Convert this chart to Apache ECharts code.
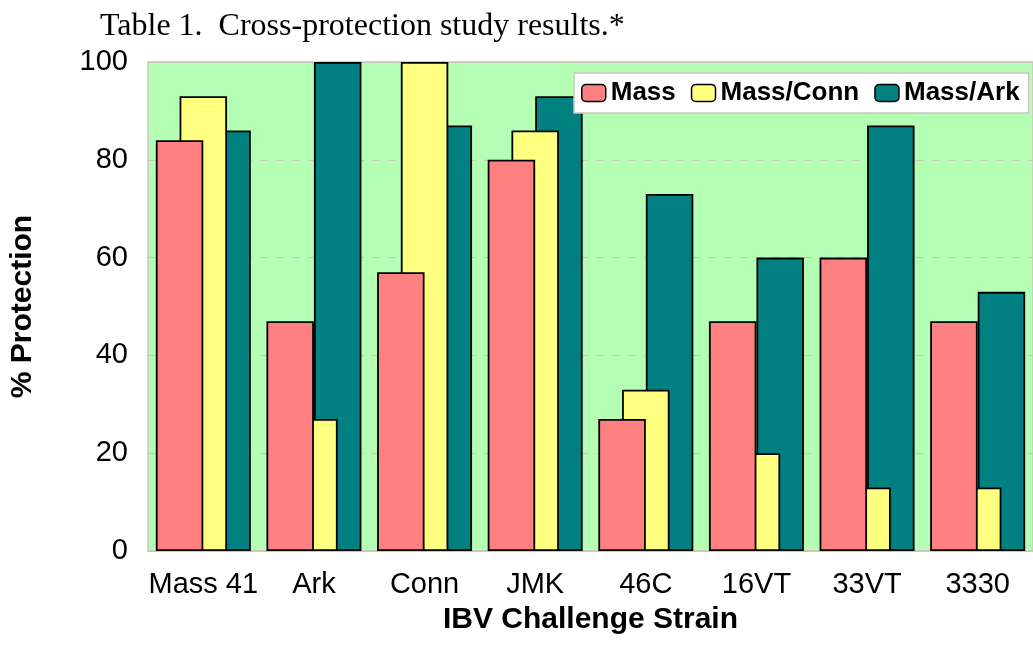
<!DOCTYPE html>
<html>
<head>
<meta charset="utf-8">
<script src="https://cdn.jsdelivr.net/npm/echarts@6/dist/echarts.min.js"></script>
<style>
html,body{margin:0;padding:0;background:#fff;}
#chart{width:1033px;height:649px;}
</style>
</head>
<body>
<div id="chart"></div>
<script>
const categories = ['Mass 41', 'Ark', 'Conn', 'JMK', '46C', '16VT', '33VT', '3330'];
const massValues = [84, 47, 57, 80, 27, 47, 60, 47];
const massConnValues = [93, 27, 100, 86, 33, 20, 13, 13];
const massArkValues = [86, 100, 87, 93, 73, 60, 87, 53];
const yTicks = [0, 20, 40, 60, 80, 100];
const seriesNames = ['Mass', 'Mass/Conn', 'Mass/Ark'];

const chart = echarts.init(document.getElementById('chart'), null, {renderer: 'canvas'});
const sans = '"Liberation Sans", Arial, sans-serif';
const barBase = {
  type: 'bar',
  barWidth: 47.5,
  barGap: '-50%',
  itemStyle: {borderColor: '#000', borderWidth: 1.8}
};
chart.setOption({
  animation: false,
  backgroundColor: '#fff',
  title: {
    text: 'Table 1.  Cross-protection study results.*',
    left: 95, top: 6,
    textStyle: {fontFamily: '"Liberation Serif", "Times New Roman", serif', fontSize: 32, fontWeight: 'normal', color: '#000'}
  },
  legend: {
    data: seriesNames,
    left: 574, top: 73, width: 480,
    z: 10,
    padding: [7, 9, 7, 7],
    itemWidth: 24, itemHeight: 17, itemGap: 15,
    backgroundColor: '#fff',
    borderColor: '#C8C8BE', borderWidth: 1.5,
    itemStyle: {borderColor: '#000', borderWidth: 1.5},
    textStyle: {fontFamily: sans, fontSize: 26, fontWeight: 'bold', color: '#000', lineHeight: 26, padding: [0,0,0,0]}
  },
  grid: {
    left: 148, top: 62, right: -6, bottom: 98,
    show: true, backgroundColor: '#B4FFB4', borderColor: '#C8C8B4', borderWidth: 1.5,
    containLabel: false
  },
  xAxis: {
    type: 'category',
    data: categories,
    name: 'IBV Challenge Strain',
    nameLocation: 'middle', nameGap: 54,
    nameTextStyle: {fontFamily: sans, fontSize: 30, fontWeight: 'bold', color: '#000'},
    axisLine: {show: true, lineStyle: {color: '#C8C8B4', width: 1.5}},
    axisTick: {show: false},
    axisLabel: {fontFamily: sans, fontSize: 29, color: '#000', margin: 19, interval: 0}
  },
  yAxis: {
    type: 'value',
    min: yTicks[0], max: yTicks[yTicks.length - 1], interval: 20,
    name: '% Protection',
    nameLocation: 'middle', nameGap: 110, nameRotate: 90,
    nameTextStyle: {fontFamily: sans, fontSize: 30, fontWeight: 'bold', color: '#000'},
    axisLine: {show: false},
    axisTick: {show: false},
    axisLabel: {fontFamily: sans, fontSize: 29, color: '#000', margin: 20},
    splitLine: {show: true, lineStyle: {color: '#C8C8B4', type: [8, 8], width: 1.2}}
  },
  series: [
    Object.assign({}, barBase, {name: seriesNames[0], data: massValues, z: 5, color: '#FF8080'}),
    Object.assign({}, barBase, {name: seriesNames[1], data: massConnValues, z: 4, color: '#FFFF80'}),
    Object.assign({}, barBase, {name: seriesNames[2], data: massArkValues, z: 3, color: '#008080'})
  ]
});
</script>
</body>
</html>
